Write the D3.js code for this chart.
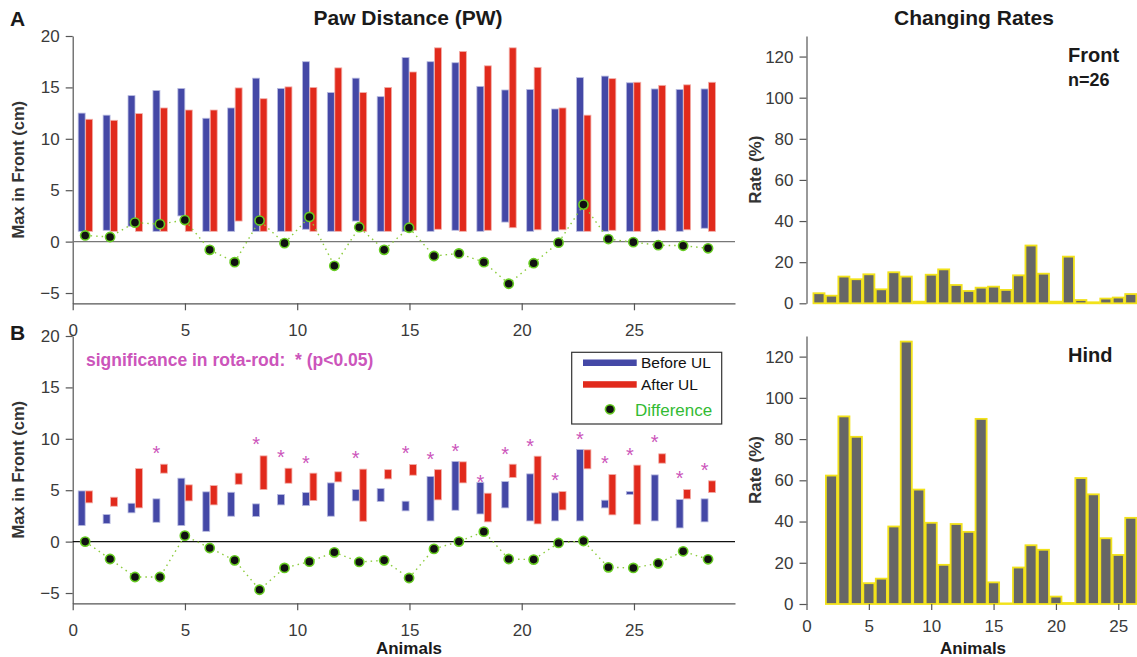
<!DOCTYPE html>
<html lang="en">
<head>
<meta charset="utf-8">
<title>Paw Distance</title>
<script src="https://d3js.org/d3.v7.min.js"></script>
<style>
  body { margin: 0; background: #fff; }
  svg { font-family: "Liberation Sans", Arial, Helvetica, sans-serif; }
  .tick text { fill: #3a3a3a; font-size: 17px; }
  .axis path, .axis line { stroke: #555; stroke-width: 1.2; }
</style>
</head>
<body>
<svg id="chart" width="1137" height="657"></svg>
<script>
// animals 1..26
var animals = d3.range(1, 27);

// Panel A: bar tops / bottoms (cm)
var beforeTopA = [12.5, 12.3, 14.2, 14.7, 14.9, 12.0, 13.0, 15.9, 14.9, 17.5, 14.5, 15.9, 14.1,
                  17.9, 17.5, 17.4, 15.1, 14.75, 14.8, 12.9, 15.95, 16.1, 15.45, 14.85, 14.8, 14.85];
var beforeBotA = [1.0, 1.1, 1.5, 1.0, 2.5, 1.0, 1.0, 1.0, 1.0, 1.2, 1.0, 2.0, 1.0,
                  1.0, 1.0, 1.1, 1.0, 1.9, 1.0, 1.0, 1.0, 1.0, 1.0, 1.0, 1.0, 1.3];
var afterTopA  = [11.9, 11.8, 12.45, 13.0, 12.8, 12.8, 14.95, 13.9, 15.05, 15.0, 16.9, 14.5, 15.0,
                  16.5, 18.85, 18.5, 17.1, 18.85, 16.95, 13.0, 12.3, 15.85, 15.5, 15.2, 15.25, 15.5];
var afterBotA  = [1.0, 1.0, 1.0, 1.0, 1.0, 1.0, 2.0, 1.0, 1.0, 1.0, 1.0, 1.0, 1.0,
                  1.1, 1.2, 1.0, 1.1, 1.35, 1.15, 1.15, 1.0, 1.1, 1.0, 1.1, 1.15, 1.0];
var diffA      = [0.6, 0.45, 1.85, 1.7, 2.1, -0.8, -2.0, 2.05, -0.15, 2.4, -2.35, 1.4, -0.8,
                  1.35, -1.4, -1.15, -2.0, -4.1, -2.1, -0.1, 3.6, 0.25, -0.05, -0.35, -0.4, -0.65];

// Panel B
var beforeTopB = [4.93, 2.63, 3.73, 4.16, 6.17, 4.84, 4.8, 3.67, 4.58, 4.77, 5.71, 5.06, 5.16,
                  3.93, 6.33, 7.8, 5.75, 5.84, 6.59, 4.74, 8.96, 4.03, 4.87, 6.49, 4.09, 4.16];
var beforeBotB = [1.56, 1.75, 2.8, 1.88, 1.56, 1.0, 2.47, 2.44, 3.57, 3.5, 2.47, 3.96, 3.9,
                  2.99, 2.01, 3.05, 2.69, 3.28, 2.01, 2.01, 2.01, 3.28, 4.58, 2.01, 1.33, 1.92];
var afterTopB  = [4.93, 4.32, 7.1, 7.53, 5.52, 5.45, 6.66, 8.34, 7.14, 6.66, 6.79, 7.05, 7.0,
                  7.5, 7.0, 7.76, 4.71, 7.53, 8.31, 4.87, 8.93, 6.53, 7.44, 8.54, 5.06, 5.91];
var afterBotB  = [3.77, 3.44, 3.28, 6.66, 3.96, 3.57, 5.58, 5.06, 5.68, 3.99, 5.81, 1.98, 6.1,
                  6.46, 4.06, 5.71, 1.92, 6.23, 1.72, 3.08, 7.08, 2.6, 1.69, 7.63, 4.16, 4.77];
var diffB      = [0.0, -1.69, -3.44, -3.44, 0.58, -0.62, -1.82, -4.68, -2.56, -1.95, -1.04, -1.98, -1.82,
                  -3.54, -0.71, 0.0, 0.97, -1.69, -1.75, -0.13, 0.06, -2.5, -2.56, -2.11, -0.94, -1.72];

// significance stars (animal, height)
var sigAnimals = [4, 8, 9, 10, 12, 14, 15, 16, 17, 18, 19, 20, 21, 22, 23, 24, 25, 26];
var sigHeights = [8.96, 9.84, 8.64, 8.08, 8.51, 9.03, 8.47, 9.25, 6.17, 8.93, 9.71, 6.36, 10.39,
                  7.99, 8.86, 10.03, 6.53, 7.4];

// Changing rates (%)
var rateFront = [4.9, 3.7, 13.0, 11.7, 14.1, 6.8, 15.1, 13.0, 0.8, 13.9, 16.5, 8.9, 6.0,
                 7.6, 8.1, 6.5, 13.6, 28.1, 14.4, 0.8, 22.7, 1.6, 0.5, 2.3, 2.8, 4.5];
var rateHind  = [0, 62.3, 91.0, 81.1, 10.1, 12.3, 37.6, 127.3, 55.5, 39.4, 19.0, 38.8, 35.0,
                 89.8, 10.5, 0.3, 17.7, 28.5, 26.3, 3.6, 0.5, 61.1, 53.2, 31.9, 23.8, 41.8];

var leftTicks = [0, 5, 10, 15, 20, 25];
var yTicksPW = [-5, 0, 5, 10, 15, 20];
var yTicksRate = [0, 20, 40, 60, 80, 100, 120];
var rightTicks = [0, 5, 10, 15, 20, 25];

var BLUE = "#4448a6", RED = "#e12a1c", GREEN = "#33bb33", PINK = "#cc55bb";

var svg = d3.select("#chart");

// left panels
var x = d3.scaleLinear().domain([0, 29.5]).range([72.7, 735]);
var slot = d3.scaleLinear().domain([1, 26]).range([0.555, 28.3]); // animal -> x units
var barW = x(0.31) - x(0);

function pwPanel(top, bottom, bTop, bBot, aTop, aBot, diff, zeroColor) {
  var y = d3.scaleLinear().domain([-6, 20]).range([bottom, top]);
  var g = svg.append("g");

  g.append("g").attr("class", "axis")
    .attr("transform", "translate(0," + bottom + ")")
    .call(d3.axisBottom(x).tickValues(leftTicks).tickSize(7).tickPadding(14).tickSizeOuter(0));
  g.append("g").attr("class", "axis")
    .attr("transform", "translate(" + x(0) + ",0)")
    .call(d3.axisLeft(y).tickValues(yTicksPW).tickSize(7).tickPadding(6).tickSizeOuter(0));

  g.append("line")
    .attr("x1", x(0)).attr("x2", x(29.5))
    .attr("y1", y(0)).attr("y2", y(0))
    .attr("stroke", zeroColor).attr("stroke-width", 1.3);

  g.selectAll(".bb").data(animals).enter().append("rect")
    .attr("x", function(d, i) { return x(slot(d)) - barW; })
    .attr("y", function(d, i) { return y(bTop[i]); })
    .attr("width", barW)
    .attr("height", function(d, i) { return y(bBot[i]) - y(bTop[i]); })
    .attr("fill", BLUE).attr("stroke", "#b8bbe0").attr("stroke-width", 0.8);

  g.selectAll(".ab").data(animals).enter().append("rect")
    .attr("x", function(d) { return x(slot(d)) + 0.5; })
    .attr("y", function(d, i) { return y(aTop[i]); })
    .attr("width", barW)
    .attr("height", function(d, i) { return y(aBot[i]) - y(aTop[i]); })
    .attr("fill", RED).attr("stroke", "#f2b0aa").attr("stroke-width", 0.8);

  var line = d3.line()
    .x(function(d) { return x(slot(d)); })
    .y(function(d, i) { return y(diff[i]); });
  g.append("path").datum(animals)
    .attr("d", line).attr("fill", "none")
    .attr("stroke", "#8ccc3c").attr("stroke-width", 1.4).attr("stroke-dasharray", "1.5,4");

  g.selectAll(".dp").data(animals).enter().append("circle")
    .attr("cx", function(d) { return x(slot(d)); })
    .attr("cy", function(d, i) { return y(diff[i]); })
    .attr("r", 4.6)
    .attr("fill", "#111").attr("stroke", "#66cc22").attr("stroke-width", 1.6);

  g.append("text")
    .attr("transform", "translate(24," + ((top + bottom) / 2) + ") rotate(-90)")
    .attr("text-anchor", "middle")
    .attr("font-size", "16.5px").attr("font-weight", "bold").attr("fill", "#333")
    .text("Max in Front (cm)");
  return y;
}

var yA = pwPanel(36, 303.3, beforeTopA, beforeBotA, afterTopA, afterBotA, diffA, "#777");
var yB = pwPanel(336, 603.3, beforeTopB, beforeBotB, afterTopB, afterBotB, diffB, "#111");

// stars
svg.selectAll(".star").data(sigAnimals).enter().append("text")
  .attr("x", function(d) { return x(slot(d)) - barW / 2; })
  .attr("y", function(d, i) { return yB(sigHeights[i]) + 11; })
  .attr("text-anchor", "middle")
  .attr("font-size", "20px").attr("fill", PINK)
  .text("*");

svg.append("text")
  .attr("x", 86).attr("y", 365.5)
  .attr("font-size", "17.5px").attr("font-weight", "bold").attr("fill", PINK)
  .style("white-space", "pre")
  .text("significance in rota-rod:  * (p<0.05)");

// legend
var lg = svg.append("g");
lg.append("rect").attr("x", 571.7).attr("y", 352.3).attr("width", 150).attr("height", 71.7)
  .attr("fill", "#fff").attr("stroke", "#333").attr("stroke-width", 1.2);
lg.append("rect").attr("x", 583).attr("y", 359.5).attr("width", 53.7).attr("height", 6.5).attr("fill", BLUE);
lg.append("rect").attr("x", 583).attr("y", 381.2).attr("width", 53.7).attr("height", 6.5).attr("fill", RED);
lg.append("circle").attr("cx", 610).attr("cy", 409.3).attr("r", 4.6)
  .attr("fill", "#111").attr("stroke", "#66cc22").attr("stroke-width", 1.6);
lg.append("text").attr("x", 641).attr("y", 368).attr("font-size", "15.5px").attr("fill", "#111").text("Before UL");
lg.append("text").attr("x", 641).attr("y", 390).attr("font-size", "15.5px").attr("fill", "#111").text("After UL");
lg.append("text").attr("x", 635).attr("y", 415.5).attr("font-size", "17px").attr("fill", GREEN).text("Difference");

// right panels
var xr = d3.scaleLinear().domain([0, 26.5]).range([806.5, 1137]);

function ratePanel(top, bottom, vals, showX) {
  var y = d3.scaleLinear().domain([0, 130]).range([bottom, top]);
  var g = svg.append("g");
  g.selectAll("rect").data(animals).enter().append("rect")
    .attr("x", function(d) { return xr(d - 0.5) + 0.7; })
    .attr("y", function(d, i) { return y(vals[i]); })
    .attr("width", xr(1) - xr(0) - 1.4)
    .attr("height", function(d, i) { return y(0) - y(vals[i]); })
    .attr("fill", "#666").attr("stroke", "#f2e21a").attr("stroke-width", 1.8);
  if (showX) {
    g.append("g").attr("class", "axis")
      .attr("transform", "translate(0," + bottom + ")")
      .call(d3.axisBottom(xr).tickValues(rightTicks).tickSize(6).tickPadding(10).tickSizeOuter(0))
      .select(".domain").remove();
  }
  g.append("g").attr("class", "axis")
    .attr("transform", "translate(" + xr(0) + ",0)")
    .call(d3.axisLeft(y).tickValues(yTicksRate).tickSize(7).tickPadding(6).tickSizeOuter(0));
  g.append("text")
    .attr("transform", "translate(761," + ((top + bottom) / 2) + ") rotate(-90)")
    .attr("text-anchor", "middle")
    .attr("font-size", "17px").attr("font-weight", "bold").attr("fill", "#333")
    .text("Rate (%)");
  return g;
}

ratePanel(36, 303.3, rateFront, false);
ratePanel(336, 604, rateHind, true);

// titles and labels
function label(txt, xx, yy, size, anchor) {
  svg.append("text").attr("x", xx).attr("y", yy)
    .attr("text-anchor", anchor || "start")
    .attr("font-size", size + "px").attr("font-weight", "bold").attr("fill", "#1a1a1a")
    .text(txt);
}
label("A", 10, 26, 21);
label("B", 10, 340, 21);
label("Paw Distance (PW)", 408, 25, 21, "middle");
label("Changing Rates", 974, 25, 21, "middle");
label("Front", 1068, 62, 20);
label("n=26", 1068, 86, 18);
label("Hind", 1068, 362, 20);
label("Animals", 409, 654, 17, "middle");
label("Animals", 973, 654, 17, "middle");
</script>
</body>
</html>
